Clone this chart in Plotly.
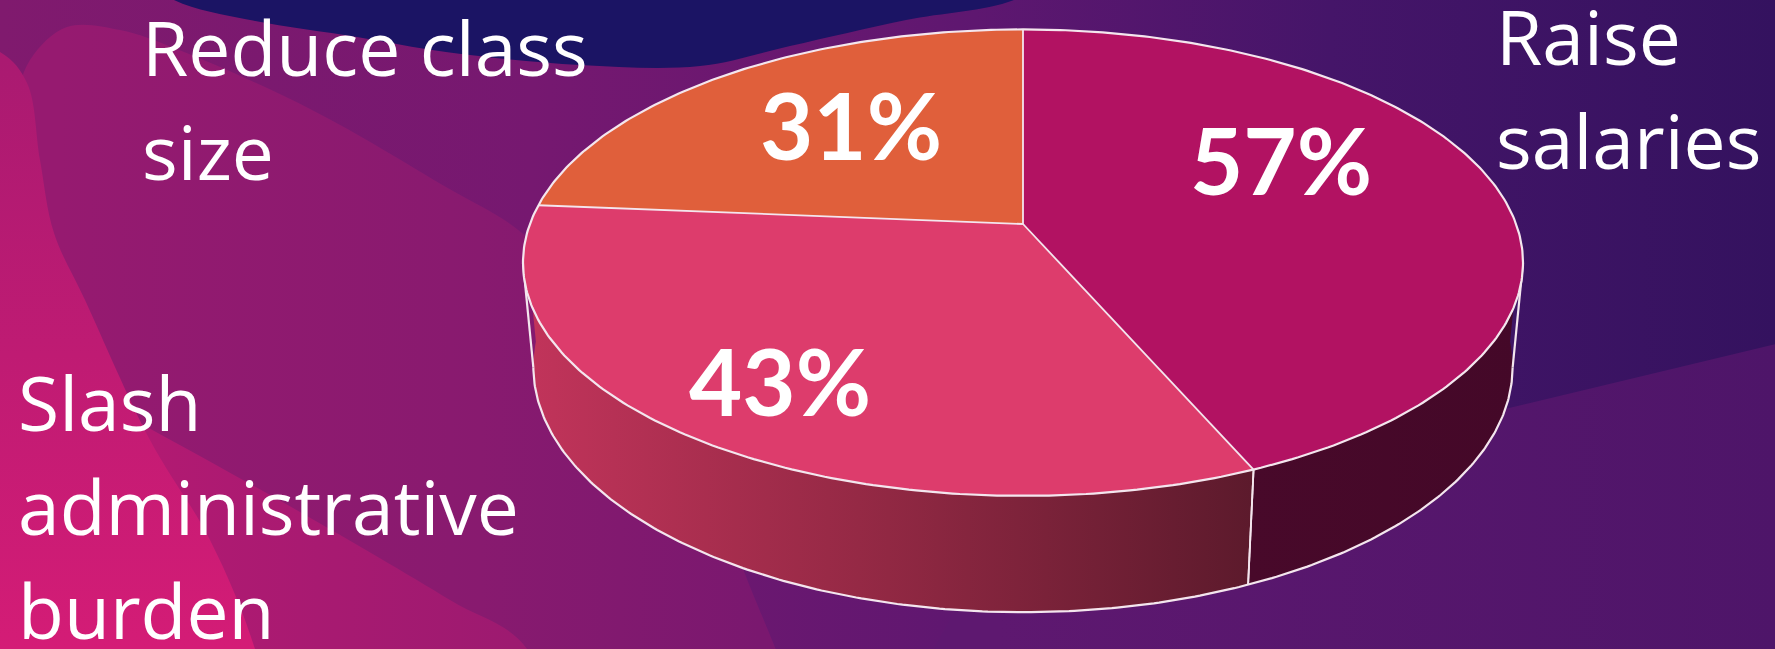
import numpy as np
import plotly.graph_objects as go

# ---- data ----
categories = ["Raise salaries", "Slash administrative burden", "Reduce class size"]
category_lines = [["Raise", "salaries"], ["Slash", "administrative", "burden"], ["Reduce class", "size"]]
values = [57, 43, 31]
value_labels = ["57%", "43%", "31%"]

# ---- style ----
top_colors = ["#B21262", "#DD3C6C", "#E05F3B"]
wall_fills = [
    dict(type="horizontal", colorscale=[[0, "#48092A"], [1, "#440828"]]),
    dict(type="horizontal", colorscale=[[0, "#C2345B"], [0.5, "#912843"], [1, "#5C1A2C"]]),
    dict(type="horizontal", colorscale=[[0, "#8A3A22"], [1, "#6A2A18"]]),
]
EDGE = "#F4E6EE"
W, H = 1775, 649
LABEL_FONT = "Open Sans"
LABEL_SIZE = 75
LINE_STEP = 104

# perspective camera for the tilted pie (screen units are pixels)
CX, CY = 1023, 224
FOCAL, DIST = 2643, 5.36
SIN_T = 0.46
COS_T = float(np.sqrt(1 - SIN_T ** 2))
DEPTH = 0.24


def project(alpha_deg, r, z):
    a = np.radians(np.asarray(alpha_deg, dtype=float))
    X = r * np.sin(a)
    Y = r * np.cos(a)
    vy = Y + DIST * COS_T
    vz = z - DIST * SIN_T
    yc = vy * SIN_T + vz * COS_T
    zc = vy * COS_T - vz * SIN_T
    return CX + FOCAL * X / zc, CY - FOCAL * yc / zc


fig = go.Figure()


def add_fill(xs, ys, color=None, gradient=None, spline=False):
    kw = dict(x=list(xs), y=list(ys), mode="lines", fill="toself",
              line=dict(width=0, shape="spline" if spline else "linear", smoothing=1.0),
              hoverinfo="skip", showlegend=False)
    if gradient is not None:
        kw["fillgradient"] = gradient
    else:
        kw["fillcolor"] = color
    fig.add_trace(go.Scatter(**kw))


def add_line(xs, ys, width=2.2):
    fig.add_trace(go.Scatter(x=list(xs), y=list(ys), mode="lines",
                             line=dict(color=EDGE, width=width),
                             hoverinfo="skip", showlegend=False))


# ---- background ----
add_fill([0, W, W, 0, 0], [0, 0, H, H, 0],
         gradient=dict(type="horizontal", start=0, stop=W,
                       colorscale=[[0, "#801A6E"], [0.3, "#761870"], [0.55, "#5E1770"],
                                   [0.75, "#451569"], [1, "#34125F"]]))
# lighter lower-right plane
add_fill([1000, 1513, W + 60, W + 60, 900, 1000], [530, 407, 330, H + 60, H + 60, 530],
         gradient=dict(type="horizontal", start=1000, stop=W,
                       colorscale=[[0, "#5E1870"], [1, "#4E1569"]]))
# large rounded swirl on the left
add_fill([-60, 10, 30, 67, 120, 179, 312, 446, 522, 600, 680, 740, 790, -60],
         [300, 120, 60, 27, 30, 50, 110, 187, 233, 320, 430, 560, 800, 800],
         gradient=dict(type="horizontal", start=60, stop=760,
                       colorscale=[[0, "#961A70"], [0.6, "#881A6F"], [1, "#7A186F"]]),
         spline=True)
# lighter inner band of the swirl
add_fill([60, 147, 300, 450, 527, 560, 60],
         [380, 427, 512, 600, 649, 800, 800],
         gradient=dict(type="horizontal", start=140, stop=530,
                       colorscale=[[0, "#B21A72"], [1, "#9C1A70"]]),
         spline=True)
# magenta corner
add_fill([-120, 0, 27, 40, 54, 85, 150, 210, 255, 285, -120],
         [20, 52, 83, 160, 233, 300, 440, 540, 649, 780, 780],
         gradient=dict(type="vertical", start=60, stop=H,
                       colorscale=[[0, "#AA1A71"], [0.5, "#BF1B73"], [1, "#D41C76"]]),
         spline=True)
# dark navy arc at the top
add_fill([120, 174, 250, 357, 446, 580, 700, 790, 906, 1014, 1080, 1080, 120],
         [-40, 0, 20, 37, 52, 65, 66, 46, 20, 0, -40, -80, -80],
         color="#1B1464", spline=True)

# ---- pie geometry from values ----
total = float(sum(values))
ends = np.cumsum(values) / total * 360.0
starts = np.concatenate([[0.0], ends[:-1]])

a_right = 90 + np.degrees(np.arcsin(COS_T / DIST))
a_left = 270 - np.degrees(np.arcsin(COS_T / DIST))

# side walls (front half only)
for i in range(len(values)):
    lo, hi = max(starts[i], a_right - 6), min(ends[i], a_left + 6)
    if hi <= lo:
        continue
    ang = np.linspace(lo, hi, 120)
    tx, ty = project(ang, 1.0, 0.0)
    bx, by = project(ang, 1.0, -DEPTH)
    xs = np.concatenate([tx, bx[::-1], tx[:1]])
    ys = np.concatenate([ty, by[::-1], ty[:1]])
    g = dict(wall_fills[i])
    g["start"], g["stop"] = float(xs.min()), float(xs.max())
    add_fill(xs, ys, gradient=g)

# wall outlines
ang = np.linspace(a_right, a_left, 300)
bx, by = project(ang, 1.0, -DEPTH)
add_line(bx, by)
for a in (a_right, a_left):
    x0, y0 = project(a, 1.0, 0.0)
    x1, y1 = project(a, 1.0, -DEPTH)
    add_line([x0, x1], [y0, y1])
for a in list(starts) + list(ends):
    if a_right < a < a_left:
        x0, y0 = project(a, 1.0, 0.0)
        x1, y1 = project(a, 1.0, -DEPTH)
        add_line([x0, x1], [y0, y1], width=1.8)

# top faces
for i in range(len(values)):
    ang = np.linspace(starts[i], ends[i], 200)
    tx, ty = project(ang, 1.0, 0.0)
    xs = np.concatenate([[CX], tx, [CX]])
    ys = np.concatenate([[CY], ty, [CY]])
    add_fill(xs, ys, color=top_colors[i])

# top outlines
ang = np.linspace(0, 360, 500)
tx, ty = project(ang, 1.0, 0.0)
add_line(tx, ty)
for a in starts:
    x1, y1 = project(a, 1.0, 0.0)
    add_line([CX, x1], [CY, y1], width=1.8)


# ---- labels (placed in paper space, given in pixels) ----
def px_to_paper(px, py):
    return px / W, 1 - py / H


annotations = []
value_pos = [(1281, 159), (780, 380), (851, 124)]
for lbl, (px, py) in zip(value_labels, value_pos):
    xp, yp = px_to_paper(px, py)
    annotations.append(dict(x=xp, y=yp, xref="paper", yref="paper", text="<b>" + lbl + "</b>",
                            showarrow=False, xanchor="center", yanchor="middle",
                            font=dict(family="Lato", size=92, color="white")))

# left edge and first baseline of each category label
cat_pos = [(1494, 64), (16, 430), (140, 75)]
for lines, (px, base) in zip(category_lines, cat_pos):
    for k, line in enumerate(lines):
        xp, yp = px_to_paper(px, base + k * LINE_STEP - 1.08 * LABEL_SIZE)
        annotations.append(dict(x=xp, y=yp, xref="paper", yref="paper", text=line,
                                showarrow=False, xanchor="left", yanchor="top", align="left",
                                font=dict(family=LABEL_FONT, size=LABEL_SIZE, color="white")))

fig.update_layout(
    width=W, height=H, margin=dict(l=0, r=0, t=0, b=0),
    paper_bgcolor="#5A1770", plot_bgcolor="#5A1770",
    xaxis=dict(range=[0, W], visible=False, fixedrange=True),
    yaxis=dict(range=[H, 0], visible=False, fixedrange=True),
    showlegend=False, annotations=annotations,
)

fig.write_html("out.html", config={"displayModeBar": False})
